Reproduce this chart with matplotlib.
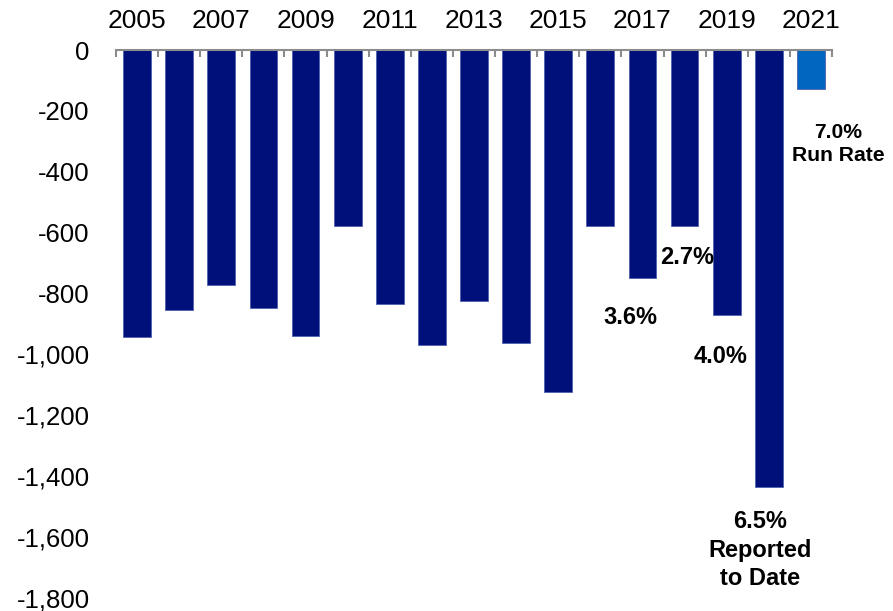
#!/usr/bin/env python3

import matplotlib.pyplot as plt
import numpy as np

years = list(range(2005, 2022))
values = [-943, -854, -772, -848, -940, -578, -834, -969, -825,
          -963, -1124, -578, -749, -578, -871, -1436, -128]
bar_colors = ["#00107a"] * 16 + ["#0066c0"]
tick_years = [y for y in years if y % 2 == 1]

# text, x (category index), y (value), font size
notes = [
    ("2.7%", 13.06, -680, 17),
    ("3.6%", 11.71, -880, 17),
    ("4.0%", 13.85, -1005, 17),
    ("6.5%\nReported\nto Date", 14.8, -1643, 17),
    ("7.0%\nRun Rate", 16.65, -309, 15.2),
]

plt.rcParams["font.family"] = ["Liberation Sans", "DejaVu Sans"]

fig = plt.figure(figsize=(8.93, 6.11), dpi=100)
ax = fig.add_axes([0.1299, 0.0213, 0.8018, 0.8967])

x = np.arange(len(years))
ax.bar(x, values, width=0.66, color=bar_colors, edgecolor="#5060b0", linewidth=0.6)

ax.set_xlim(-0.5, len(years) - 0.5)
ax.set_ylim(-1800, 0)

for side in ["left", "right", "bottom"]:
    ax.spines[side].set_visible(False)
ax.spines["top"].set_color("#8c8c8c")
ax.spines["top"].set_linewidth(1.5)

ax.xaxis.tick_top()
ax.set_xticks([years.index(y) for y in tick_years])
ax.set_xticklabels([str(y) for y in tick_years], fontsize=19)
ax.set_xticks(np.arange(-0.5, len(years)), minor=True)
ax.tick_params(axis="x", which="major", length=0, pad=12)
ax.tick_params(axis="x", which="minor", direction="in", length=5,
               width=1.5, color="#8c8c8c", top=True, bottom=False)

yticks = np.arange(0, -1801, -200)
ax.set_yticks(yticks)
ax.set_yticklabels([f"{v:,}" for v in yticks], fontsize=18.5)
ax.tick_params(axis="y", length=0, pad=19)

for text, xp, yp, fs in notes:
    ax.text(xp, yp, text, ha="center", va="center", fontsize=fs,
            fontweight="bold", linespacing=1.3, clip_on=False)

fig.savefig("out.png", dpi=100)
